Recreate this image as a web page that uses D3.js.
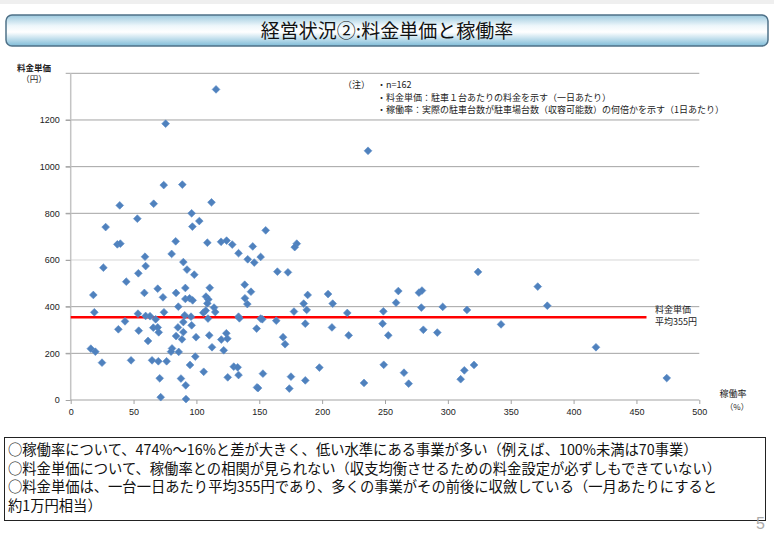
<!DOCTYPE html>
<html><head><meta charset="utf-8">
<script src="https://cdn.jsdelivr.net/npm/d3@7"></script>
<style>
html,body{margin:0;padding:0;background:#fff;}
svg{display:block;font-family:"Noto Sans CJK JP","Noto Sans",sans-serif;}
</style></head>
<body><svg id="c" width="774" height="533"></svg>
<script>
const titleText = "経営状況②:料金単価と稼働率";
const xTicks = [0,50,100,150,200,250,300,350,400,450,500];
const yTicks = [0,200,400,600,800,1000,1200];
const gridValues = [200,400,600,800,1000,1200,1400];
const avgPrice = 355;
const notes = ["・n=162","・料金単価：駐車１台あたりの料金を示す（一日あたり）","・稼働率：実際の駐車台数が駐車場台数（収容可能数）の何倍かを示す（1日あたり）"];
const summary = [
 "○稼働率について、474%～16%と差が大きく、低い水準にある事業が多い（例えば、100%未満は70事業）",
 "○料金単価について、稼働率との相関が見られない（収支均衡させるための料金設定が必ずしもできていない）",
 "○料金単価は、一台一日あたり平均355円であり、多くの事業がその前後に収斂している（一月あたりにすると",
 "約1万円相当）"
];
// occupancy rate (%)
const rate = [115.6,75.5,74,88.8,39,66,112,96.2,53,27.8,96.8,102.3,37.1,39.5,83.5,108.7,119.6,124,128.5,236.5,
155.1,144.8,179.8,178.2,133.5,26,59.1,59.6,80.3,89.6,92.5,98.3,53.8,44.2,18,58.6,69.2,73.4,83.8,91.2,
91.2,94.6,97,85.6,18.8,53.5,59.6,63.1,67.6,74.2,90.7,95.7,89.6,43.2,37.9,54.1,65.7,69.2,70,85.3,
89.6,83.8,88.5,96.2,99.7,61.5,16,19.6,24.9,48,64.7,69.7,76.3,80.6,79.8,85.9,99.1,94.9,70.8,87.7,
91.5,71.6,91.7,105.8,124.9,129.7,132.8,133.5,107.6,109.5,108.7,110.6,114,115,105.5,107.4,109.2,110.2,112.4,121.7,
119.8,123.8,124.6,133.5,134.2,140.8,146,151.1,164.4,172.8,138.4,143.4,138.6,140.5,188.5,185.3,187.7,177.6,204.7,208.4,
220,248.7,258.8,260.6,151.1,152.4,163.5,186.6,207.8,248.1,252.6,221.1,147.9,168.9,170.5,148.2,149,152.9,175.2,173.9,
186.6,197.8,233.3,249,277,279.4,278.9,295.9,315.2,280.5,291.6,342.3,371.5,379.1,417.8,474.1,265.1,268.8,310.2,313.1,
320.8,324];
// unit price (yen)
const price = [1331,1184,921,923,834,841,847,800,777,741,743,767,667,670,680,674,678,683,666,1068,
727,658,670,655,629,567,614,574,626,591,559,537,543,507,450,459,477,440,459,480,
433,436,427,400,376,370,360,359,346,376,363,357,334,337,303,297,310,311,290,311,
291,274,260,320,269,253,220,207,160,170,170,166,166,221,207,206,186,150,93,92,
63,12,4,121,97,143,140,107,443,431,414,481,396,377,374,383,349,277,226,213,
259,286,263,357,350,603,589,613,550,547,494,464,436,411,450,413,386,379,454,413,
373,380,417,467,349,346,340,327,311,327,277,277,306,269,239,54,51,113,100,49,
84,139,73,151,460,469,396,399,386,301,289,324,486,404,226,94,117,70,89,127,
150,549];

const svg = d3.select("#c");
svg.append("rect").attr("x",0).attr("y",0).attr("width",774).attr("height",4).attr("fill","#efefef");

// title box
const defs = svg.append("defs");
const g1 = defs.append("linearGradient").attr("id","tg").attr("x1",0).attr("y1",0).attr("x2",0).attr("y2",1);
g1.append("stop").attr("offset","0%").attr("stop-color","#9cc9de");
g1.append("stop").attr("offset","35%").attr("stop-color","#eef7fb");
g1.append("stop").attr("offset","55%").attr("stop-color","#ffffff");
g1.append("stop").attr("offset","100%").attr("stop-color","#7fbcd8");
svg.append("rect").attr("x",6).attr("y",15).attr("width",762).attr("height",31).attr("rx",6)
  .attr("fill","url(#tg)").attr("stroke","#4f7188").attr("stroke-width",1.5);
svg.append("text").attr("x",387).attr("y",37.5).attr("text-anchor","middle")
  .attr("font-size",19).attr("fill","#111").text(titleText);

// scales
const x = d3.scaleLinear().domain([0,500]).range([70.7,699.3]);
const y = d3.scaleLinear().domain([0,1400]).range([400,73.3]);

// gridlines
svg.append("g").selectAll("line").data(gridValues).join("line")
  .attr("x1",x(0)-5).attr("x2",x(500)).attr("y1",d=>y(d)).attr("y2",d=>y(d))
  .attr("stroke",d=>d===600?"#d6d6d6":"#a3a3a3").attr("stroke-width",1);

// y axis
const ya = svg.append("g").attr("transform",`translate(${x(0)},0)`)
  .call(d3.axisLeft(y).tickValues(yTicks).tickSize(5).tickPadding(6).tickFormat(d3.format("d")));
ya.select(".domain").attr("stroke","#c4c4c4").attr("stroke-width",1.5).attr("d",`M0,${y(0)}V${y(1400)}`);
ya.selectAll(".tick line").attr("stroke","#a3a3a3");
ya.selectAll("text").attr("font-family","Liberation Sans, Arial, sans-serif").attr("font-size",9).attr("fill","#222");

// x axis
const xa = svg.append("g").attr("transform",`translate(0,${y(0)})`)
  .call(d3.axisBottom(x).tickValues(xTicks).tickSize(4).tickPadding(5).tickFormat(d3.format("d")));
xa.select(".domain").attr("stroke","#a3a3a3").attr("d",`M${x(0)},0H${x(500)}`);
xa.selectAll(".tick line").attr("stroke","#a3a3a3");
xa.selectAll("text").attr("font-family","Liberation Sans, Arial, sans-serif").attr("font-size",9).attr("fill","#222");

// average line
svg.append("line").attr("x1",x(0)).attr("x2",x(458)).attr("y1",y(avgPrice)).attr("y2",y(avgPrice))
  .attr("stroke","#ff0000").attr("stroke-width",2.5);
svg.append("text").attr("x",655).attr("y",313).attr("font-size",9).attr("fill","#222").text("料金単価");
svg.append("text").attr("x",655).attr("y",325).attr("font-size",9).attr("fill","#222").text("平均355円");

// points
const pts = rate.map((r,i)=>({r, p:price[i]}));
const diamond = d3.symbol().type(d3.symbolSquare).size(30);
svg.append("g").selectAll("path").data(pts).join("path")
  .attr("d",diamond)
  .attr("transform",d=>`translate(${x(d.r)},${y(d.p)}) rotate(45)`)
  .attr("fill","#4f81bd").attr("stroke","#5b8cc8").attr("stroke-width",0.6);

// axis titles
svg.append("text").attr("x",34).attr("y",71).attr("text-anchor","middle").attr("font-size",8.5).attr("font-weight","bold").attr("fill","#222").text("料金単価");
svg.append("text").attr("x",34).attr("y",82).attr("text-anchor","middle").attr("font-size",8.5).attr("fill","#222").text("（円）");
svg.append("text").attr("x",733).attr("y",397).attr("text-anchor","middle").attr("font-size",9).attr("fill","#222").text("稼働率");
svg.append("text").attr("x",737).attr("y",410).attr("text-anchor","middle").attr("font-size",8).attr("fill","#222").text("（%）");

// notes
svg.append("text").attr("x",343).attr("y",88).attr("font-size",9).attr("fill","#222").text("（注）");
svg.append("g").selectAll("text").data(notes).join("text")
  .attr("x",377).attr("y",(d,i)=>88+i*12.5).attr("font-size",9).attr("fill","#222").text(d=>d);

// summary box
svg.append("rect").attr("x",4.5).attr("y",437.5).attr("width",761).attr("height",83)
  .attr("fill","#fff").attr("stroke","#222").attr("stroke-width",1);
svg.append("g").selectAll("text").data(summary).join("text")
  .attr("x",8).attr("y",(d,i)=>455+i*18.5).attr("font-size",14.3).attr("fill","#111").text(d=>d);
svg.append("text").attr("x",756).attr("y",529).attr("font-size",16).attr("fill","#aaa").attr("font-family","Liberation Sans, Arial").text("5");
</script></body></html>
